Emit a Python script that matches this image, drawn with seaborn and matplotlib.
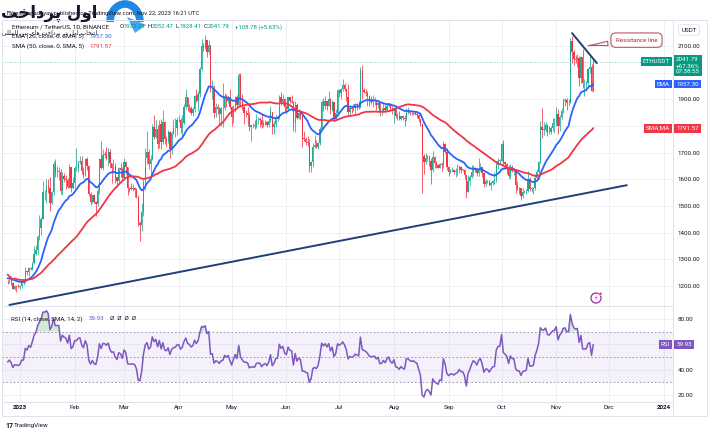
import numpy as np
import pandas as pd
import seaborn as sns
import matplotlib.pyplot as plt
import matplotlib.dates as mdates
from matplotlib.patches import Arc, Polygon, Circle

# ETH/USDT daily candles
# closes before the first drawn candle, only used to warm up EMA / SMA / RSI (6 Nov - 24 Dec 2022)
warm_close = [1573, 1567, 1334, 1100, 1299, 1287, 1256, 1221, 1243, 1252, 1217, 1201, 1212,
              1218, 1142, 1108, 1135, 1184, 1204, 1200, 1206, 1195, 1169, 1217, 1297,
              1276, 1294, 1242, 1280, 1260, 1270, 1232, 1282, 1265, 1266, 1263, 1274,
              1320, 1309, 1266, 1166, 1186, 1187, 1167, 1216, 1211, 1218, 1219, 1220]

dec_close = [1218, 1226, 1212, 1190, 1200, 1199, 1196]
dec_high = [1223, 1229, 1238, 1215, 1204, 1202, 1207]
dec_low = [1206, 1212, 1205, 1187, 1185, 1179, 1192]

jan_close = [1200, 1214, 1214, 1256, 1251, 1269, 1264, 1287, 1321, 1336,
             1383, 1417, 1451, 1551, 1552, 1576, 1567, 1512, 1552, 1659,
             1627, 1628, 1628, 1556, 1613, 1603, 1598, 1573, 1647, 1567, 1585]
jan_high = [1201, 1223, 1220, 1271, 1258, 1273, 1270, 1290, 1349, 1354,
            1393, 1466, 1457, 1595, 1560, 1602, 1600, 1609, 1558, 1668,
            1676, 1650, 1646, 1637, 1627, 1625, 1615, 1606, 1658, 1647, 1607]
jan_low = [1190, 1194, 1205, 1212, 1241, 1237, 1261, 1259, 1283, 1317,
           1316, 1371, 1391, 1451, 1522, 1512, 1550, 1483, 1506, 1540,
           1608, 1607, 1596, 1546, 1540, 1590, 1565, 1566, 1568, 1551, 1565]

feb_close = [1642, 1643, 1665, 1670, 1631, 1617, 1675, 1651, 1546, 1515,
             1540, 1515, 1507, 1556, 1675, 1641, 1693, 1692, 1681, 1702,
             1660, 1642, 1646, 1610, 1595, 1641, 1634, 1605]
feb_high = [1649, 1716, 1668, 1686, 1686, 1647, 1680, 1682, 1652, 1551,
            1543, 1545, 1519, 1568, 1680, 1742, 1714, 1707, 1723, 1716,
            1712, 1662, 1675, 1660, 1610, 1645, 1661, 1646]
feb_low = [1566, 1633, 1628, 1659, 1619, 1605, 1613, 1635, 1537, 1505,
           1510, 1513, 1462, 1500, 1546, 1640, 1634, 1681, 1673, 1651,
           1642, 1588, 1625, 1586, 1573, 1591, 1610, 1600]

mar_close = [1664, 1648, 1568, 1566, 1564, 1566, 1561, 1535, 1437, 1429,
             1477, 1591, 1679, 1703, 1656, 1677, 1795, 1760, 1788, 1733,
             1808, 1739, 1816, 1751, 1742, 1776, 1714, 1772, 1792, 1794, 1822]
mar_high = [1679, 1669, 1648, 1572, 1586, 1582, 1573, 1567, 1540, 1442,
            1512, 1606, 1719, 1780, 1714, 1692, 1808, 1842, 1823, 1804,
            1822, 1827, 1860, 1819, 1762, 1786, 1782, 1783, 1826, 1831, 1834]
mar_low = [1596, 1621, 1542, 1551, 1559, 1556, 1533, 1530, 1425, 1370,
           1405, 1463, 1559, 1658, 1637, 1609, 1672, 1751, 1756, 1715,
           1718, 1712, 1732, 1734, 1723, 1735, 1681, 1694, 1770, 1759, 1765]

apr_close = [1824, 1792, 1810, 1870, 1908, 1873, 1866, 1850, 1862, 1912,
             1892, 1920, 2013, 2100, 2094, 2122, 2077, 2104, 1938, 1943,
             1849, 1871, 1864, 1845, 1866, 1869, 1908, 1893, 1907, 1870]
apr_high = [1841, 1829, 1842, 1882, 1938, 1910, 1881, 1876, 1873, 1916,
            1938, 1930, 2022, 2128, 2111, 2141, 2124, 2122, 2104, 1973,
            1955, 1885, 1881, 1873, 1871, 1960, 1925, 1920, 1911, 1940]
apr_low = [1816, 1774, 1764, 1806, 1863, 1858, 1852, 1842, 1836, 1852,
           1890, 1855, 1907, 2006, 2080, 2089, 2060, 2070, 1926, 1900,
           1829, 1835, 1846, 1807, 1800, 1796, 1860, 1871, 1885, 1865]

may_close = [1833, 1872, 1908, 1878, 1993, 1898, 1870, 1849, 1847, 1842,
             1797, 1803, 1803, 1801, 1822, 1824, 1823, 1802, 1812, 1816,
             1805, 1819, 1853, 1795, 1807, 1829, 1830, 1910, 1891, 1902, 1872]
may_high = [1875, 1880, 1912, 1915, 2000, 1998, 1919, 1874, 1861, 1870,
            1852, 1805, 1812, 1823, 1846, 1832, 1832, 1845, 1822, 1821,
            1818, 1830, 1875, 1854, 1817, 1843, 1835, 1916, 1927, 1920, 1906]
may_low = [1800, 1810, 1852, 1866, 1875, 1870, 1861, 1806, 1834, 1800,
           1781, 1742, 1792, 1790, 1793, 1807, 1797, 1794, 1795, 1805,
           1798, 1795, 1814, 1770, 1771, 1797, 1820, 1826, 1880, 1880, 1853]

jun_close = [1863, 1907, 1892, 1890, 1813, 1880, 1831, 1850, 1839, 1753,
             1752, 1741, 1737, 1650, 1666, 1721, 1727, 1720, 1736, 1788,
             1891, 1874, 1894, 1875, 1903, 1860, 1889, 1828, 1850, 1934]
jun_high = [1877, 1910, 1910, 1917, 1895, 1895, 1887, 1862, 1858, 1841,
            1782, 1757, 1762, 1750, 1668, 1735, 1765, 1747, 1739, 1796,
            1898, 1906, 1911, 1895, 1930, 1905, 1897, 1890, 1863, 1939]
jun_low = [1849, 1860, 1887, 1887, 1783, 1778, 1825, 1826, 1828, 1720,
           1744, 1727, 1725, 1626, 1626, 1646, 1717, 1717, 1714, 1728,
           1784, 1857, 1862, 1860, 1875, 1844, 1855, 1815, 1822, 1837]

jul_close = [1924, 1937, 1955, 1938, 1910, 1851, 1868, 1862, 1866, 1881,
             1877, 1872, 2007, 1934, 1928, 1923, 1911, 1894, 1891, 1892,
             1894, 1880, 1888, 1856, 1858, 1869, 1859, 1874, 1881, 1863, 1856]
jul_high = [1935, 1943, 1975, 1963, 1941, 1956, 1875, 1870, 1883, 1887,
            1885, 1893, 2020, 2029, 1943, 1940, 1930, 1917, 1913, 1916,
            1908, 1898, 1894, 1889, 1868, 1885, 1885, 1883, 1885, 1886, 1876]
jul_low = [1907, 1900, 1932, 1933, 1893, 1838, 1842, 1850, 1856, 1846,
           1860, 1863, 1866, 1900, 1923, 1914, 1876, 1876, 1881, 1872,
           1880, 1860, 1867, 1838, 1843, 1852, 1850, 1855, 1871, 1858, 1844]

aug_close = [1868, 1839, 1836, 1828, 1836, 1829, 1826, 1855, 1855, 1850,
             1847, 1849, 1845, 1842, 1826, 1807, 1686, 1666, 1681, 1686,
             1667, 1636, 1683, 1662, 1652, 1644, 1657, 1652, 1731, 1704, 1645]
aug_high = [1871, 1880, 1848, 1856, 1838, 1840, 1840, 1866, 1870, 1857,
            1852, 1852, 1856, 1858, 1845, 1828, 1810, 1696, 1700, 1693,
            1689, 1680, 1705, 1686, 1670, 1658, 1660, 1664, 1745, 1735, 1718]
aug_low = [1812, 1830, 1824, 1822, 1822, 1822, 1800, 1818, 1846, 1843,
           1842, 1843, 1842, 1831, 1816, 1800, 1550, 1621, 1658, 1668,
           1650, 1582, 1629, 1644, 1642, 1642, 1641, 1631, 1642, 1698, 1635]

sep_close = [1628, 1634, 1635, 1628, 1633, 1636, 1646, 1636, 1635, 1617,
             1553, 1593, 1607, 1627, 1642, 1635, 1622, 1639, 1646, 1624,
             1583, 1594, 1593, 1579, 1588, 1595, 1596, 1653, 1670, 1670]
sep_high = [1650, 1639, 1645, 1640, 1641, 1656, 1652, 1650, 1640, 1640,
            1618, 1617, 1617, 1655, 1653, 1647, 1637, 1680, 1660, 1648,
            1624, 1600, 1598, 1598, 1593, 1598, 1628, 1665, 1680, 1678]
sep_low = [1612, 1625, 1628, 1620, 1610, 1615, 1625, 1625, 1630, 1603,
           1531, 1551, 1580, 1605, 1613, 1627, 1612, 1611, 1631, 1608,
           1570, 1576, 1588, 1575, 1561, 1577, 1584, 1590, 1637, 1663]

oct_close = [1733, 1664, 1656, 1647, 1611, 1647, 1633, 1633, 1579, 1567,
             1566, 1539, 1552, 1555, 1557, 1601, 1564, 1564, 1566, 1604,
             1629, 1664, 1795, 1786, 1786, 1804, 1779, 1777, 1794, 1810, 1815]
oct_high = [1735, 1748, 1668, 1660, 1654, 1657, 1652, 1643, 1633, 1595,
            1572, 1568, 1567, 1558, 1562, 1630, 1608, 1572, 1573, 1620,
            1638, 1670, 1818, 1866, 1815, 1816, 1808, 1800, 1800, 1829, 1830]
oct_low = [1669, 1655, 1640, 1620, 1606, 1602, 1628, 1615, 1550, 1560,
           1545, 1522, 1530, 1547, 1545, 1554, 1555, 1554, 1544, 1561,
           1597, 1618, 1660, 1756, 1765, 1777, 1764, 1770, 1770, 1780, 1774]

nov_close = [1846, 1799, 1834, 1856, 1893, 1899, 1885, 1887, 2120, 2077,
             2053, 2046, 2055, 1979, 2057, 1961, 1962, 1963, 2013, 2023,
             1933.01, 2041.79]
nov_high = [1870, 1865, 1840, 1866, 1906, 1905, 1905, 1900, 2131, 2137,
            2086, 2067, 2071, 2064, 2063, 2090, 1975, 1969, 2018, 2068,
            2034, 2052.47]
nov_low = [1799, 1771, 1781, 1825, 1850, 1875, 1860, 1875, 1885, 2035,
           2030, 2035, 2020, 1950, 1961, 1942, 1912, 1930, 1952, 1997,
           1930, 1928.41]

# hand-drawn trend lines (date, price) from the picture
support_dates = ["2022-12-26", "2023-12-11"]
support_prices = [1129, 1578]
resist_dates = ["2023-11-10", "2023-11-24"]
resist_prices = [2148, 2036]

month_labels = ["2023", "Feb", "Mar", "Apr", "May", "Jun", "Jul", "Aug",
                "Sep", "Oct", "Nov", "Dec", "2024"]

segments = [
    ("2022-12-25", dec_close, dec_high, dec_low),
    ("2023-01-01", jan_close, jan_high, jan_low),
    ("2023-02-01", feb_close, feb_high, feb_low),
    ("2023-03-01", mar_close, mar_high, mar_low),
    ("2023-04-01", apr_close, apr_high, apr_low),
    ("2023-05-01", may_close, may_high, may_low),
    ("2023-06-01", jun_close, jun_high, jun_low),
    ("2023-07-01", jul_close, jul_high, jul_low),
    ("2023-08-01", aug_close, aug_high, aug_low),
    ("2023-09-01", sep_close, sep_high, sep_low),
    ("2023-10-01", oct_close, oct_high, oct_low),
    ("2023-11-01", nov_close, nov_high, nov_low),
]

frames = []
for start, c, h, l in segments:
    frames.append(pd.DataFrame({"close": c, "high": h, "low": l},
                               index=pd.date_range(start, periods=len(c))))
df = pd.concat(frames)
warm = pd.Series(warm_close, index=pd.date_range("2022-11-06", periods=len(warm_close)),
                 dtype=float)
allc = pd.concat([warm, df["close"].astype(float)])

# indicators as on the chart: EMA 20, SMA 50, RSI 14 (Wilder)
df["open"] = allc.shift(1).loc[df.index]
df["ema"] = allc.ewm(span=20, adjust=False).mean().loc[df.index]
df["sma"] = allc.rolling(50).mean().loc[df.index]
delta = allc.diff()
gain = delta.clip(lower=0).ewm(alpha=1 / 14, adjust=False).mean()
loss = (-delta.clip(upper=0)).ewm(alpha=1 / 14, adjust=False).mean()
df["rsi"] = (100 - 100 / (1 + gain / loss)).loc[df.index]
df["x"] = mdates.date2num(df.index)

UP, DOWN = "#22ab94", "#f23645"
EMA_C, SMA_C, RSI_C = "#2962ff", "#f23645", "#7e57c2"
TXT = "#131722"
GRID = "#eef0f5"
FRAME = "#dfe2ea"
FS = 4.5

sns.set_theme(style="white")
plt.rcParams['font.family'] = ['Roboto', 'DejaVu Sans']

W, H = 715, 434
fig = plt.figure(figsize=(W / 100, H / 100), dpi=100)


def px_rect(x0, y0, x1, y1):
    return [x0 / W, 1 - y1 / H, (x1 - x0) / W, (y1 - y0) / H]


ax = fig.add_axes(px_rect(2, 20, 673, 306))
ax_rsi = fig.add_axes(px_rect(2, 306, 673, 402), sharex=ax)

jan1 = mdates.date2num(pd.Timestamp("2023-01-01"))
ax.set_xlim(jan1 - 10.2, jan1 + 370.2)
ax.set_ylim(1125, 2197.5)
ax_rsi.set_ylim(14.5, 90.3)

# candles
o = df["open"].values
c = df["close"].values.astype(float)
hi = np.maximum(df["high"].values, np.maximum(o, c))
lo = np.minimum(df["low"].values, np.minimum(o, c))
col = np.where(c >= o, UP, DOWN)
ax.vlines(df["x"], lo, hi, colors=col, lw=0.55, zorder=3)
ax.bar(df["x"], np.maximum(np.abs(c - o), 2.0), bottom=np.minimum(o, c), width=0.75,
       color=col, lw=0, zorder=3)

# moving averages
sns.lineplot(x=df["x"], y=df["ema"], ax=ax, color=EMA_C, lw=1.3, legend=False, zorder=4)
sns.lineplot(x=df["x"], y=df["sma"], ax=ax, color=SMA_C, lw=1.3, legend=False, zorder=4)

# trend lines
ax.plot(mdates.date2num(pd.to_datetime(support_dates)), support_prices,
        color="#1f3f7a", lw=1.4, solid_capstyle="round", zorder=5)
ax.plot(mdates.date2num(pd.to_datetime(resist_dates)), resist_prices,
        color="#1f3f7a", lw=1.4, solid_capstyle="round", zorder=5)

last = float(df["close"].iloc[-1])
ax.axhline(last, color=UP, lw=0.6, ls=(0, (1, 2)), alpha=0.7, zorder=2)

# resistance callout
ax.annotate("Resistance line", xy=(jan1 + 320.5, 2100), xytext=(jan1 + 349.5, 2122),
            ha="center", va="center", fontsize=FS, color="#b22833",
            bbox=dict(boxstyle="round,pad=0.75", fc="white", ec="#b8585c", lw=0.8),
            arrowprops=dict(arrowstyle="wedge,tail_width=0.7,shrink_factor=0.4",
                            fc="white", ec="#b8585c", lw=0.8),
            annotation_clip=False, zorder=6)

# RSI pane
ax_rsi.axhspan(30, 70, color=RSI_C, alpha=0.08, lw=0)
for lvl in (70, 50, 30):
    ax_rsi.axhline(lvl, color="#8a8d97", lw=0.6, ls=(0, (2, 2.5)))
ax_rsi.fill_between(df["x"], 70, df["rsi"], where=df["rsi"] > 70,
                    color="#4caf50", alpha=0.25, lw=0, interpolate=True)
sns.lineplot(x=df["x"], y=df["rsi"], ax=ax_rsi, color=RSI_C, lw=1.1, legend=False)

# axes, ticks, grid (labels hidden behind the tags are left blank)
months = mdates.date2num(pd.date_range("2023-01-01", "2024-01-01", freq="MS"))
ax_rsi.set_xticks(months, month_labels)
for t, lab in zip(ax_rsi.get_xticklabels(), month_labels):
    if lab.isdigit():
        t.set_fontweight("bold")
price_ticks = list(range(1200, 2101, 100))
ax.set_yticks(price_ticks, ["" if p in (1800, 2000) else f"{p:.2f}" for p in price_ticks])
ax_rsi.set_yticks([20, 40, 60, 80], ["20.00", "40.00", "", "80.00"])
for a in (ax, ax_rsi):
    a.yaxis.tick_right()
    a.tick_params(axis="y", length=0, pad=3.3, labelsize=FS, labelcolor=TXT)
    a.tick_params(axis="x", length=0, pad=2.5, labelsize=FS, labelcolor=TXT)
    a.grid(True, color=GRID, lw=0.7)
    a.set_xlabel("")
    a.set_ylabel("")
    for s in a.spines.values():
        s.set_color(FRAME)
        s.set_linewidth(0.7)
ax.tick_params(axis="x", labelbottom=False)


# price-scale tags
def tag(axis, y, text, color, side, dy=0, va="center"):
    axis.annotate(text, xy=(1, y), xycoords=("axes fraction", "data"),
                  xytext=((-2.2, dy) if side == "left" else (2.2, dy)),
                  textcoords="offset points", ha=("right" if side == "left" else "left"),
                  va=va, fontsize=FS, color="white", linespacing=1.3,
                  bbox=dict(boxstyle="square,pad=0.3", fc=color, ec="none"),
                  annotation_clip=False, zorder=10)


tag(ax, last, "ETHUSDT", "#089981", "left")
tag(ax, last, "2041.79\n+67.36%\n07:38:55", "#089981", "right", dy=3.2, va="top")
tag(ax, 1957.30, "EMA", EMA_C, "left")
tag(ax, 1957.30, "1957.30", EMA_C, "right")
tag(ax, 1791.57, "SMA;MA", SMA_C, "left")
tag(ax, 1791.57, "1791.57", SMA_C, "right")
tag(ax_rsi, 59.93, "RSI", RSI_C, "left")
tag(ax_rsi, 59.93, "59.93", RSI_C, "right")

# overlay in pixel coordinates for header, frame and watermark
ov = fig.add_axes([0, 0, 1, 1], zorder=20)
ov.set_xlim(0, W)
ov.set_ylim(H, 0)
ov.axis("off")
ov.patch.set_alpha(0)

for xs, ys in [([2, 707], [20, 20]), ([707, 707], [20, 416]), ([2, 707], [416, 416]),
               ([2, 2], [402, 416]), ([673, 673], [402, 416])]:
    ov.plot(xs, ys, color=FRAME, lw=0.7)

ov.text(689, 30, "USDT", ha="center", va="center", fontsize=FS, color=TXT,
        bbox=dict(boxstyle="round,pad=0.45", fc="white", ec=FRAME, lw=0.6))

ov.text(7, 14, "rakesh_upadhyay published on TradingView.com, Nov 22, 2023 16:21 UTC",
        fontsize=4.2, color=TXT, va="center")
ov.text(12, 27, "Ethereum / TetherUS, 1D, BINANCE", fontsize=FS, color=TXT, va="center")
for xpos, letter, val in [(120, "O", "1933.01"), (148, "H", "2052.47"),
                          (176, "L", "1928.41"), (204, "C", "2041.79")]:
    ov.text(xpos, 27, letter, fontsize=4.3, color=TXT, va="center")
    ov.text(xpos + 3.4, 27, val, fontsize=4.3, color="#089981", va="center")
ov.text(235, 27, "+108.78 (+5.63%)", fontsize=4.3, color="#089981", va="center")
ov.text(12, 36.5, "EMA (20, close, 0, SMA, 5)", fontsize=FS, color=TXT, va="center")
ov.text(90, 36.5, "1957.30", fontsize=FS, color=EMA_C, va="center")
ov.text(12, 46, "SMA (50, close, 0, SMA, 5)", fontsize=FS, color=TXT, va="center")
ov.text(90, 46, "1791.57", fontsize=FS, color=SMA_C, va="center")

ov.text(11, 319, "RSI (14, close, SMA, 14, 2)", fontsize=FS, color=TXT, va="center")
ov.text(89, 319, "59.93", fontsize=FS, color=RSI_C, va="center")
ov.text(110, 319, "Ø  Ø  Ø  Ø", fontsize=FS, color=TXT, va="center")

# alert icon
ov.add_patch(Circle((596, 298), 5, fc="white", ec="#9c27b0", lw=0.9))
ov.text(596, 298.3, "⚡", fontsize=4.5, color="#9c27b0", ha="center", va="center")
ov.add_patch(Circle((600.5, 293.8), 1.6, fc="#f23645", ec="white", lw=0.4))

# TradingView logo
ov.text(5, 426, "17", fontsize=5, color=TXT, va="center", fontweight="bold")
ov.text(14, 426, "TradingView", fontsize=FS, color=TXT, va="center")

# site watermark over the header
ov.text(1, 13, "\uFE96\uFEA7\uFE8D\uFEA9\uFEAE\uFB58 \uFEDD\uFEED\uFE8D",
        fontsize=12, color="#15152b", ha="left", va="center", fontweight="bold",
        family=["DejaVu Sans"])
ov.text(2, 33, "\uFBFD\uFEE0\uFEE0\uFEE4\uFEDF\uFE8D \uFEE6\uFBFF\uFE91 \uFBFC\uFE8E\uFEEB "
        "\uFE96\uFEA7\uFE8D\uFEA9\uFEAE\uFB58 \uFEAD\uFEA9 \uFEDD\uFEED\uFE8D "
        "\uFE8F\uFE8E\uFEA8\uFE98\uFEE7\uFE8D",
        fontsize=4.3, color="#15152b", ha="left", va="center", family=["DejaVu Sans"])
ov.add_patch(Arc((125, 22), 30, 36, theta1=180, theta2=360, lw=5.5, color="#1e88e5"))
ov.add_patch(Polygon([(127, 17), (146, 25), (135, 33)], closed=True, fc="#42a5f5", ec="none"))

fig.savefig("out.png", dpi=100)
